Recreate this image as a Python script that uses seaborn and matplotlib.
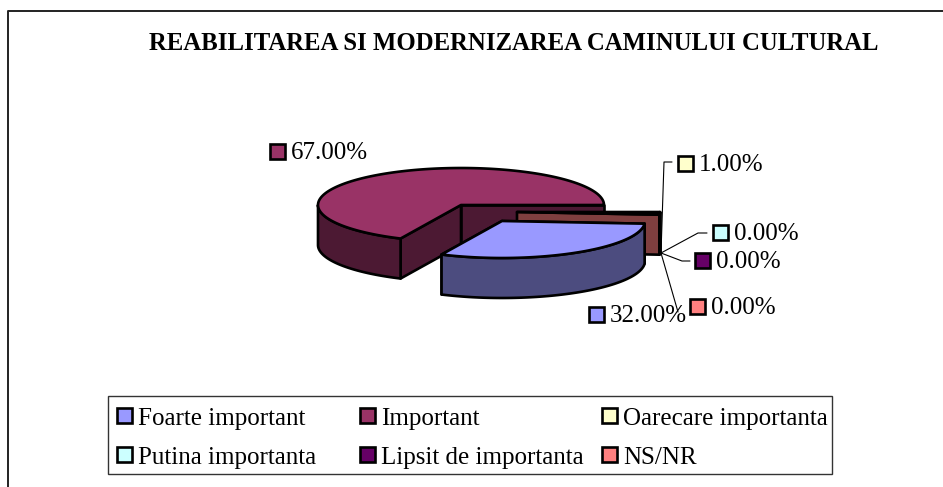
import numpy as np
import matplotlib
matplotlib.use('Agg')
import matplotlib.pyplot as plt
from matplotlib.patches import Polygon, Rectangle
import seaborn as sns

# ======================================================================
# DATE
# ======================================================================
TITLE = 'REABILITAREA SI MODERNIZAREA CAMINULUI CULTURAL'
CATEGORIES = ['Foarte important', 'Important', 'Oarecare importanta',
              'Putina importanta', 'Lipsit de importanta', 'NS/NR']
VALUES = [32, 67, 1, 0, 0, 0]
TOP_COLORS = ['#9999ff', '#993366', '#ffffcc', '#ccffff', '#660066', '#ff8080']
SIDE_COLORS = ['#4c4c7f', '#4c1933', '#7f3f3f']

# ======================================================================
# GEOMETRIE (pixeli)
# ======================================================================
W, H = 943, 487
CX, CY = 461, 205
RX, RY = 143, 37
DEPTH = 40
START_ANGLE = -3.6
WARP = 4.5  # perspectiva 3D: deformeaza putin unghiurile
OFFSETS = {0: (41, 16), 1: (0, 0), 2: (56, 7)}
DRAW_ORDER = [1, 2, 0]
LW = 1.9

LABEL_POS = {0: (589, 314), 1: (270, 151), 2: (678, 163),
             3: (713, 232), 4: (695, 260), 5: (690, 306)}
LEADERS = {2: [(661, 253), (664, 162), (672, 162)],
           3: [(661, 253), (698, 233), (707, 233)],
           4: [(661, 253), (682, 261), (690, 261)],
           5: [(661, 253), (678, 312)]}
LEGEND_X = [117, 360, 602]
LEGEND_Y = [416, 455]

sns.set_theme(style='white', font='Liberation Serif')
palette = sns.color_palette(TOP_COLORS)
side_palette = sns.color_palette(SIDE_COLORS)

fig = plt.figure(figsize=(W / 100, H / 100), dpi=100)
ax = fig.add_axes([0, 0, 1, 1])
ax.set_xlim(0, W)
ax.set_ylim(H, 0)
ax.axis('off')


def rim(theta, cx, cy, dy=0):
    theta = np.asarray(theta, dtype=float)
    t = np.radians(theta + WARP * np.sin(np.radians(2 * theta)))
    return np.column_stack([cx + RX * np.cos(t), cy - RY * np.sin(t) + dy])


def poly(points, color, z):
    ax.add_patch(Polygon(points, closed=True, facecolor=color, edgecolor='black',
                         linewidth=LW, joinstyle='round', zorder=z))


def draw_slice(i, t1, t2, z):
    # t1 > t2: sensul acelor de ceas, unghiuri in 0..360
    ox, oy = OFFSETS[i]
    cx, cy = CX + ox, CY + oy
    side = side_palette[i]
    apex = (cx, cy)
    # fetele interioare
    for t in (t1, t2):
        p = rim([t], cx, cy)[0]
        poly([apex, p, (p[0], p[1] + DEPTH), (cx, cy + DEPTH)], side, z)
    # marginea exterioara, doar partea din fata
    if t1 > 180:
        arc = np.linspace(max(t2, 180), t1, 80)
        poly(np.vstack([rim(arc, cx, cy), rim(arc[::-1], cx, cy, DEPTH)]), side, z + 0.1)
    # fata de sus
    arc = np.linspace(t1, t2, 160)
    poly(np.vstack([[apex], rim(arc, cx, cy)]), palette[i], z + 0.2)


# unghiurile feliilor, din valori
angles = {}
theta = START_ANGLE
for i, v in enumerate(VALUES):
    sweep = v / sum(VALUES) * 360
    angles[i] = (theta, theta - sweep)
    theta -= sweep

for z, i in enumerate(DRAW_ORDER):
    t1, t2 = angles[i]
    t1, t2 = t1 % 360, t2 % 360
    if t1 < t2:
        t1 += 360
    if t1 > 360 and t2 >= 180:
        t1, t2 = t1 - 360, t2 - 360
    draw_slice(i, t1, t2, z + 2)

# cadrul exterior: doar sus si la stanga
ax.plot([8, 8, W], [H, 11, 11], color='#222222', lw=1.4, zorder=1)

ax.text(513.5, 50, TITLE, fontsize=17.85, fontweight='bold', color='black',
        ha='center', va='baseline', zorder=6)

# etichetele de date
for i, v in enumerate(VALUES):
    x, y = LABEL_POS[i]
    ax.add_patch(Rectangle((x, y - 7.5), 15, 15, facecolor=palette[i], edgecolor='black',
                           linewidth=LW, zorder=6))
    ax.text(x + 21, y + 8, f'{v:.2f}%', fontsize=18, color='black', ha='left',
            va='baseline', zorder=7)

for pts in LEADERS.values():
    xs, ys = zip(*pts)
    ax.plot(xs, ys, color='black', lw=0.8, zorder=5)

# legenda
ax.add_patch(Rectangle((108, 396), 724, 78, facecolor='white', edgecolor='#333333',
                       linewidth=1.0, zorder=5))
for i, name in enumerate(CATEGORIES):
    x = LEGEND_X[i % 3]
    y = LEGEND_Y[i // 3]
    ax.add_patch(Rectangle((x, y - 8), 15, 15, facecolor=palette[i], edgecolor='black',
                           linewidth=LW, zorder=6))
    ax.text(x + 21, y + 9, name, fontsize=18, color='black', ha='left', va='baseline', zorder=7)

fig.savefig('out.png', dpi=100, facecolor='white')
